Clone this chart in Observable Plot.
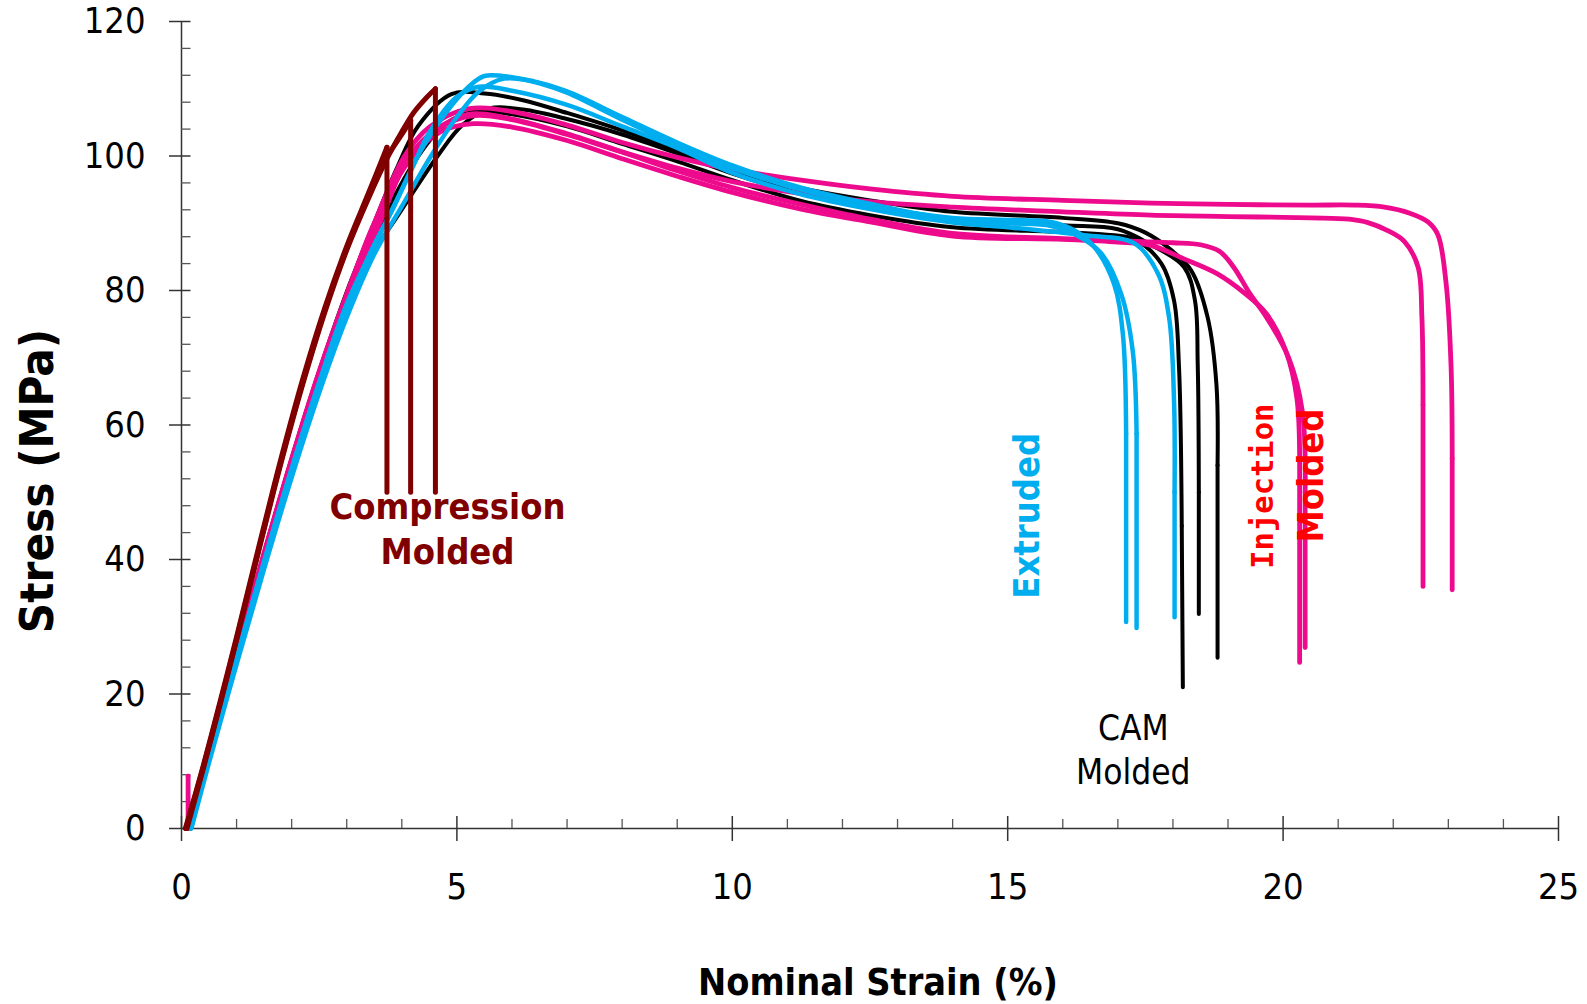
<!DOCTYPE html>
<html>
<head>
<meta charset="utf-8">
<script src="https://cdn.jsdelivr.net/npm/d3@7"></script>
<script src="https://cdn.jsdelivr.net/npm/@observablehq/plot@0.6"></script>
<style>
html, body { margin: 0; padding: 0; background: #fff; overflow: hidden; }
#chart svg { display: block; }
</style>
</head>
<body>
<div id="chart"></div>
<script>
// ---- tick values ----
const xTicks = [0, 5, 10, 15, 20, 25];
const xMinorTicks = [1, 2, 3, 4, 6, 7, 8, 9, 11, 12, 13, 14, 16, 17, 18, 19, 21, 22, 23, 24];
const yTicks = [0, 20, 40, 60, 80, 100, 120];
const yMinorTicks = [4, 8, 12, 16, 24, 28, 32, 36, 44, 48, 52, 56, 64, 68, 72, 76, 84, 88, 92, 96, 104, 108, 112, 116];

// ---- Compression molded specimens [strain %, stress MPa] ----
const compression1 = [[0.07,0],[0.4,9.5],[0.72,19.5],[1.0,28.5],[1.4,41.8],[1.8,54.8],[2.2,66.8],[2.6,77.4],[3.0,86.6],[3.4,94.6],[3.73,101.3],[3.73,50]];
const compression2 = [[0.08,0],[0.4,9.3],[0.72,19.2],[1.0,28.2],[1.4,41.4],[1.8,54.4],[2.2,66.3],[2.6,77],[3.0,86.2],[3.4,94],[3.73,99.8],[4.0,103.2],[4.16,105.3],[4.16,50]];
const compression3 = [[0.1,0],[0.4,9],[0.72,19],[1.0,28],[1.4,41.2],[1.8,54.1],[2.2,66],[2.6,76.7],[3.0,86],[3.4,93.8],[3.73,99.6],[4.0,103.6],[4.22,106.5],[4.45,108.7],[4.61,110],[4.61,50]];

// ---- Injection molded specimens ----
const injection1 = [[0.12,0],[0.5,11.5],[1,26.5],[1.5,41],[2,55],[2.5,68],[3,79.5],[3.5,90],[4.05,100],[4.5,104.3],[5.2,107],[6,106.6],[7,104.6],[8,102],[9,99.8],[10,98],[11.25,96.4],[12.5,95.1],[14,94],[16,93.4],[17.6,93],[19,92.8],[20.5,92.7],[21.3,92.7],[21.84,92.4],[22.3,91.5],[22.63,90.2],[22.81,88.3],[22.96,81],[23.05,68.6],[23.07,55],[23.07,35.5]];
const injection2 = [[0.14,0],[0.5,11],[1,26],[1.5,40.5],[2,54.5],[2.5,67.5],[3,79],[3.55,90],[4.15,100],[4.6,103.8],[5.3,106],[6,105.4],[7,103.2],[8,100.6],[9,98.2],[10,96.2],[11.25,94.4],[12.5,93.2],[14,92.4],[16,91.7],[17.6,91.2],[19,91],[20.5,90.8],[21.2,90.6],[21.54,90.1],[21.9,88.9],[22.2,87.3],[22.45,83.5],[22.52,76],[22.54,63],[22.54,36]];
const injection3 = [[0.15,0],[0.5,11],[1,26.2],[1.5,40.8],[2,54.8],[2.5,67.8],[3,79.2],[3.5,90],[4.2,100],[4.7,103.6],[5.3,104.8],[6,104.3],[7,102.3],[8,99.6],[9,97],[10,94.6],[11.25,92.1],[12.5,90.2],[14,88.1],[16,87.6],[17,87.2],[17.6,86.7],[18.2,84.7],[18.8,82.5],[19.3,79.6],[19.7,76.5],[20.05,71],[20.25,64],[20.3,55],[20.3,24.7]];
const injection4 = [[0.16,0],[0.5,10.8],[1,25.8],[1.5,40.3],[2,54.2],[2.5,67.2],[3,78.8],[3.6,90],[4.1,99.5],[4.6,103.8],[5.2,106.2],[6,105.5],[7,103.3],[8,100.6],[9,97.8],[10,95.3],[11.25,92.8],[12.5,90.6],[14,88.5],[16,87.7],[17,87.4],[18,87.1],[18.5,86.8],[18.85,85.8],[19.1,83.5],[19.4,79.5],[19.7,76],[20.1,70],[20.35,62],[20.4,50],[20.4,26.9]];
const injectionSpike = [[0.12,7.8],[0.12,0]];

// ---- CAM molded specimens ----
const cam1 = [[0.13,0],[0.5,11.2],[1,26.3],[1.5,41],[2,55],[2.5,68],[3,79.8],[3.45,89],[3.9,98],[4.3,104.5],[4.9,109.2],[5.5,109.3],[6.2,108.3],[7,106.4],[8,103.8],[9,100.8],[10,97.6],[11.25,95.2],[12.5,93.4],[14,91.7],[16,90.8],[17,90],[17.5,88.6],[17.97,86],[18.33,83],[18.63,76],[18.79,66],[18.81,54],[18.81,25.4]];
const cam2 = [[0.15,0],[0.5,10.8],[1,25.6],[1.5,40],[2,54],[2.5,66.8],[3,78.2],[3.62,90],[4.3,100],[4.8,104.8],[5.3,106.6],[6,106.2],[7,104.4],[8,101.8],[9,99.2],[10,96.4],[11.25,93.3],[12.5,91.2],[14,89.4],[16,88.7],[16.8,88.3],[17.3,87.6],[17.79,84],[18.02,78.5],[18.11,68.6],[18.16,45],[18.18,21]];
const cam3 = [[0.17,0],[0.5,10.3],[1,24.8],[1.5,39],[2,52.6],[2.5,65.4],[3,76.6],[3.5,85.8],[3.9,90.8],[4.65,100],[5.1,104.6],[5.6,107.1],[6.2,106.9],[7,105.5],[8,103.2],[9,100.4],[10,97.4],[11.25,94.4],[12.5,92.3],[14,90.6],[16,89.7],[17,89.1],[17.6,86.8],[18.2,83.5],[18.4,78.5],[18.45,69],[18.47,50],[18.47,31.9]];

// ---- Extruded specimens ----
const extruded1 = [[0.15,0],[0.5,10.5],[1,25.2],[1.5,39.5],[2,53.2],[2.5,66],[3,77.4],[3.45,86],[3.86,92.5],[4.29,100],[4.8,106.4],[5.2,110.2],[5.5,111.9],[6,111.7],[6.5,110.8],[7,109.4],[8,105.4],[9,101.6],[10,98.2],[11.25,95],[12.5,92.6],[14,90.8],[15,90.5],[15.79,90.2],[16.2,89],[16.57,86.5],[16.93,81],[17.09,73.6],[17.15,58.7],[17.15,30.7]];
const extruded2 = [[0.18,0],[0.5,9.8],[1,24.4],[1.5,38.6],[2,52.2],[2.5,64.8],[3,76],[3.5,85.4],[4,92.5],[4.53,100],[5,105.8],[5.4,109.6],[5.85,111.5],[6.4,111.1],[7,109.6],[8,105.8],[9,102],[10,98.6],[11.25,95.3],[12.5,92.9],[14,90.5],[15,90],[15.79,89.6],[16.25,88.2],[16.7,85.5],[17.06,79.5],[17.27,71],[17.34,58.7],[17.34,29.8]];
const extruded3 = [[0.16,0],[0.5,10.6],[1,25.4],[1.5,39.8],[2,53.6],[2.5,66.4],[3,78],[3.7,90],[4.15,97.5],[4.5,103.5],[5,108.8],[5.4,110.3],[6,109.7],[7,107.6],[8,104.4],[9,101.2],[10,97.5],[11.25,94.3],[12.5,92.1],[14,90.1],[15,89.4],[16.39,88.2],[17.3,87],[17.73,82.5],[17.93,76],[18.02,63.6],[18.03,50],[18.03,31.4]];

// ---- annotation texts ----
const labelCompression = "Compression\nMolded";
const labelExtruded = "Extruded";
const labelCam = "CAM\nMolded";
const labelInjection1 = "Injection";
const labelInjection2 = "Molded";
const xTitle = "Nominal Strain (%)";
const yTitle = "Stress (MPa)";

// ---- helpers ----
// body: smooth curve up to the last-but-one point; tail: the final straight drop
function bodyRows(curves) {
  return curves.flatMap((c, i) => c.slice(0, -1).map(([x, y]) => ({id: i, x, y})));
}
function tailRows(curves) {
  return curves.flatMap((c, i) => c.slice(-2).map(([x, y]) => ({id: i, x, y})));
}
function group(curves, color, width) {
  return [
    Plot.line(bodyRows(curves), {x: "x", y: "y", z: "id", stroke: color, strokeWidth: width, curve: "catmull-rom"}),
    Plot.line(tailRows(curves), {x: "x", y: "y", z: "id", stroke: color, strokeWidth: width})
  ];
}

const PINK = "#EE0A8C", BLUE = "#00AEEF", DARKRED = "#800000";
const SANS = "'DejaVu Sans Condensed', 'DejaVu Sans', sans-serif";
const X0 = xTicks[0], Y0 = yTicks[0];

const chart = Plot.plot({
  width: 1587,
  height: 1004,
  marginLeft: 181,
  marginRight: 29,
  marginTop: 21,
  marginBottom: 176,
  x: {domain: [xTicks[0], xTicks[xTicks.length - 1]]},
  y: {domain: [yTicks[0], yTicks[yTicks.length - 1]]},
  style: {background: "#fff", color: "#000", fontFamily: SANS, fontSize: "36px"},
  marks: [
    // axis lines
    Plot.ruleY([Y0], {stroke: "#333", strokeWidth: 1.5}),
    Plot.ruleX([X0], {stroke: "#333", strokeWidth: 1.5}),
    // ticks: major cross the axis, minor point inward
    Plot.ruleX(xTicks, {x: d => d, y1: Y0, y2: Y0, insetTop: -12, insetBottom: -13, stroke: "#333", strokeWidth: 1.5}),
    Plot.ruleX(xMinorTicks, {x: d => d, y1: Y0, y2: Y0, insetTop: -9, insetBottom: 0, stroke: "#555", strokeWidth: 1.3}),
    Plot.ruleY(yTicks, {y: d => d, x1: X0, x2: X0, insetLeft: -12, insetRight: -9.5, stroke: "#333", strokeWidth: 1.5}),
    Plot.ruleY(yMinorTicks, {y: d => d, x1: X0, x2: X0, insetLeft: 0, insetRight: -9.5, stroke: "#555", strokeWidth: 1.3}),
    // tick labels
    Plot.axisX(xTicks, {anchor: "bottom", tickSize: 0, tickPadding: 45, fontSize: 36, fontFamily: SANS, label: null}),
    Plot.axisY(yTicks, {anchor: "left", tickSize: 0, tickPadding: 36, fontSize: 36, fontFamily: SANS, label: null}),
    // curves
    ...group([cam1, cam2, cam3], "#000", 4),
    ...group([injection1, injection2, injection3, injection4, injectionSpike], PINK, 4.8),
    ...group([extruded1, extruded2, extruded3], BLUE, 4.5),
    ...group([compression1, compression2, compression3], DARKRED, 5),
    // annotations
    Plot.text([labelCompression], {text: d => d, x: 4.83, y: 44.8, fill: DARKRED, fontWeight: "bold", fontSize: 36, lineHeight: 1.25, fontFamily: SANS}),
    Plot.text([labelExtruded], {text: d => d, x: 15.36, y: 46.5, rotate: -90, fill: BLUE, fontWeight: "bold", fontSize: 36, fontFamily: SANS}),
    Plot.text([labelCam], {text: d => d, x: 17.28, y: 12.0, fill: "#000", fontSize: 35, lineHeight: 1.26, fontFamily: SANS}),
    Plot.text([labelInjection1], {text: d => d, x: 19.64, y: 50.9, rotate: -90, fill: "#FF0000", fontWeight: "bold", fontSize: 30.5, fontFamily: "'DejaVu Sans Mono', monospace"}),
    Plot.text([labelInjection2], {text: d => d, x: 20.52, y: 52.5, rotate: -90, fill: "#FF0000", fontWeight: "bold", fontSize: 36, fontFamily: SANS}),
    // axis titles
    Plot.text([xTitle], {text: d => d, frameAnchor: "bottom", textAnchor: "middle", lineAnchor: "middle", dx: 8, dy: 154, fontWeight: "bold", fontSize: 37.5, fontFamily: SANS}),
    Plot.text([yTitle], {text: d => d, frameAnchor: "left", textAnchor: "middle", lineAnchor: "middle", rotate: -90, dx: -144, dy: 56, fontWeight: "bold", fontSize: 47, fontFamily: SANS})
  ]
});
document.getElementById("chart").append(chart);
</script>
</body>
</html>
